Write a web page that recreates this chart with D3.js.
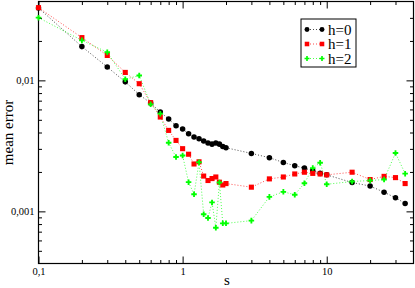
<!DOCTYPE html>
<html>
<head>
<meta charset="utf-8">
<script src="https://cdn.jsdelivr.net/npm/d3@7"></script>
<style>
  body { margin: 0; background: #fff; }
  svg text { font-family: "Liberation Serif", "DejaVu Serif", serif; }
</style>
</head>
<body>
<div id="chart"></div>
<script>
const sValues = [0.1, 0.2, 0.3, 0.4, 0.5, 0.6, 0.7, 0.8, 0.9, 1.0,
  1.1, 1.2, 1.3, 1.4, 1.5, 1.6, 1.7, 1.8, 1.9, 2.0,
  3, 4, 5, 6, 7, 8, 9, 10, 15, 20, 25, 30, 35];

const errH0 = [0.0357, 0.0181, 0.01264, 0.00974, 0.00778, 0.00671, 0.00573, 0.00507, 0.00451, 0.00425,
  0.00392, 0.00369, 0.00359, 0.00345, 0.00333, 0.00326, 0.00333, 0.00326, 0.00313, 0.00306,
  0.00277, 0.00257, 0.00236, 0.00223, 0.00214, 0.00204, 0.00195, 0.0019, 0.00166, 0.00156, 0.0014, 0.00127, 0.00115];

const errH1 = [0.0359, 0.0212, 0.0155, 0.0115, 0.00943, 0.00676, 0.00525, 0.00415, 0.00348, 0.00301,
  0.00273, 0.0023, 0.00239, 0.00186, 0.00172, 0.00178, 0.00183, 0.00167, 0.00159, 0.00163,
  0.00153, 0.00177, 0.00183, 0.00193, 0.00199, 0.00195, 0.00193, 0.0019, 0.00199, 0.00175, 0.00185, 0.00181, 0.00163];

const errH2 = [0.0301, 0.0202, 0.0164, 0.0102, 0.0109, 0.00656, 0.00557, 0.00334, 0.0026, 0.00267,
  0.00167, 0.00135, 0.00237, 0.00095, 0.00089, 0.00117, 0.00075, 0.00166, 0.00081, 0.00081,
  0.00085, 0.00129, 0.00141, 0.00134, 0.00164, 0.00214, 0.00235, 0.00161, 0.00169, 0.00172, 0.00175, 0.00279, 0.00194];

const seriesNames = ["h=0", "h=1", "h=2"];
const xTickValues = [0.1, 1, 10];
const xTickLabels = ["0,1", "1", "10"];
const yTickValues = [0.001, 0.01];
const yTickLabels = ["0,001", "0,01"];

const width = 415, height = 288;
const mLeft = 38.5, mRight = 413.5, mTop = 1.5, mBottom = 263.5;

const svg = d3.select("#chart").append("svg")
  .attr("width", width)
  .attr("height", height);

const x = d3.scaleLog().domain([0.1, 40]).range([mLeft, mRight]);
const y = d3.scaleLog().domain([0.0004, 0.04]).range([mBottom, mTop]);

// minor tick positions, 2..9 in each decade
function minorTicks(scale) {
  const [a, b] = scale.domain();
  const out = [];
  for (let p = Math.floor(Math.log10(a)); p <= Math.ceil(Math.log10(b)); p++) {
    for (let m = 2; m <= 9; m++) {
      const v = m * Math.pow(10, p);
      if (v > a && v < b) out.push(v);
    }
  }
  return out;
}

function drawAxis(axisFn, scale, tx, ty, majors, labels, showLabels) {
  const g = svg.append("g").attr("transform", `translate(${tx},${ty})`);
  g.append("g").call(axisFn(scale).tickValues(minorTicks(scale).filter(v => !majors.includes(v)))
    .tickSizeInner(-3.5).tickSizeOuter(0).tickFormat(""));
  const gm = g.append("g").call(axisFn(scale).tickValues(majors)
    .tickSizeInner(-7).tickSizeOuter(0).tickPadding(showLabels ? 13 : 0)
    .tickFormat((d, i) => showLabels ? labels[i] : ""));
  g.selectAll("path.domain").remove();
  g.selectAll("line").attr("stroke", "#000").attr("stroke-width", 1);
  gm.selectAll("text").attr("font-size", 10.5).attr("fill", "#000");
  return gm;
}

const bx = drawAxis(d3.axisBottom, x, 0, mBottom, xTickValues, xTickLabels, true);
bx.selectAll("text").attr("dy", "0.35em").attr("y", 8);
drawAxis(d3.axisTop, x, 0, mTop, xTickValues, xTickLabels, false);
const ly = drawAxis(d3.axisLeft, y, mLeft, 0, yTickValues, yTickLabels, true);
ly.selectAll("text").attr("x", -4);
drawAxis(d3.axisRight, y, mRight, 0, yTickValues, yTickLabels, false);

// frame
svg.append("rect")
  .attr("x", mLeft).attr("y", mTop)
  .attr("width", mRight - mLeft).attr("height", mBottom - mTop)
  .attr("fill", "none").attr("stroke", "#000").attr("stroke-width", 1.2);

// axis titles
svg.append("text")
  .attr("x", (mLeft + mRight) / 2 + 1)
  .attr("y", 285)
  .attr("text-anchor", "middle")
  .attr("font-size", 15)
  .text("s");

svg.append("text")
  .attr("transform", `translate(13,${(mTop + mBottom) / 2}) rotate(-90)`)
  .attr("text-anchor", "middle")
  .attr("font-size", 15)
  .text("mean error");

const colors = ["#000000", "#ff0000", "#00ff00"];
const symbols = [d3.symbolCircle, d3.symbolSquare, d3.symbolCross];
const symSizes = [24, 26, 17];
const allSeries = [errH0, errH1, errH2];

const line = d3.line()
  .x(d => x(d[0]))
  .y(d => y(d[1]));

const plot = svg.append("g");

allSeries.forEach((vals, k) => {
  const pts = sValues.map((s, i) => [s, vals[i]]);
  plot.append("path")
    .datum(pts)
    .attr("d", line)
    .attr("fill", "none")
    .attr("stroke", colors[k])
    .attr("stroke-width", 1)
    .attr("stroke-dasharray", "1,2")
    .attr("opacity", 0.7);
});

allSeries.forEach((vals, k) => {
  plot.append("g").selectAll("path")
    .data(sValues.map((s, i) => [s, vals[i]]))
    .enter().append("path")
    .attr("transform", d => `translate(${x(d[0])},${y(d[1])})`)
    .attr("d", d3.symbol().type(symbols[k]).size(symSizes[k]))
    .attr("fill", colors[k]);
});

// legend
const legend = svg.append("g").attr("transform", "translate(301,19)");
legend.append("rect")
  .attr("width", 55).attr("height", 48)
  .attr("fill", "#fff").attr("stroke", "#000").attr("stroke-width", 1);

seriesNames.forEach((name, k) => {
  const ry = 10.5 + k * 14.5;
  legend.append("line")
    .attr("x1", 6).attr("x2", 21).attr("y1", ry).attr("y2", ry)
    .attr("stroke", colors[k]).attr("stroke-dasharray", "1,2").attr("opacity", 0.7);
  [6, 21].forEach(px => {
    legend.append("path")
      .attr("transform", `translate(${px},${ry})`)
      .attr("d", d3.symbol().type(symbols[k]).size(symSizes[k] * 0.8))
      .attr("fill", colors[k]);
  });
  legend.append("text")
    .attr("x", 27).attr("y", ry + 5)
    .attr("font-size", 15)
    .text(name);
});
</script>
</body>
</html>
